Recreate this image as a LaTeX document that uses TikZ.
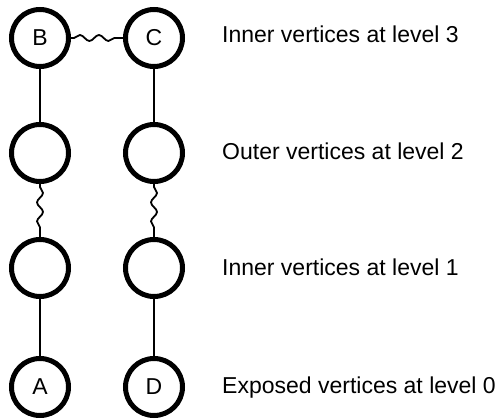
\documentclass[tikz,border=0pt]{standalone}
\usepackage{fontspec}
\setmainfont{Liberation Sans}
\usetikzlibrary{decorations.pathmorphing}
\begin{document}
\begin{tikzpicture}[x=1pt,y=-1pt,
  vert/.style={circle,draw,line width=5pt,minimum size=57pt,inner sep=0pt,font=\fontsize{23}{26}\selectfont},
  solid edge/.style={line width=2pt},
  wavy/.style={line width=1.8pt,decorate,decoration={snake,segment length=19pt,amplitude=3pt,pre length=3pt,post length=3pt}},
  lab/.style={anchor=base west,inner sep=0pt,font=\fontsize{23}{26}\selectfont}]
\useasboundingbox (0,0) rectangle (496,420);
\node[vert] (B) at (40,38) {B};
\node[vert] (C) at (154,38) {C};
\node[vert] (L2) at (40,153) {};
\node[vert] (R2) at (154,153) {};
\node[vert] (L1) at (40,268) {};
\node[vert] (R1) at (154,268) {};
\node[vert] (A) at (40,387) {A};
\node[vert] (D) at (154,387) {D};
\draw[wavy] (B) -- (C);
\draw[solid edge] (B) -- (L2);
\draw[solid edge] (C) -- (R2);
\draw[wavy] (L2) -- (L1);
\draw[wavy] (R2) -- (R1);
\draw[solid edge] (L1) -- (A);
\draw[solid edge] (R1) -- (D);
\node[lab] (t3) at (222,43) {Inner vertices at level 3};
\node[lab] (t2) at (222,160) {Outer vertices at level 2};
\node[lab] (t1) at (222,275) {Inner vertices at level 1};
\node[lab] (t0) at (222,393) {Exposed vertices at level 0};
\end{tikzpicture}
\end{document}
